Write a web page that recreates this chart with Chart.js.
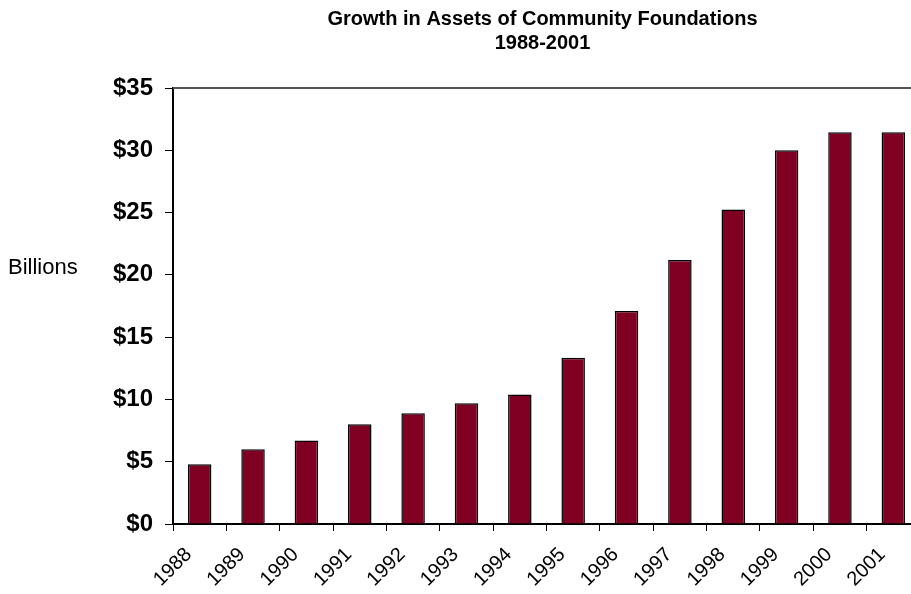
<!DOCTYPE html>
<html>
<head>
<meta charset="utf-8">
<script src="https://cdn.jsdelivr.net/npm/chart.js@4"></script>
<style>
  html, body { margin: 0; padding: 0; background: #fff; overflow: hidden; }
  #wrap { position: relative; width: 930px; height: 594px; }
</style>
</head>
<body>
<div id="wrap"><canvas id="assetsChart"></canvas></div>
<script>
const years = ['1988', '1989', '1990', '1991', '1992', '1993', '1994', '1995', '1996', '1997', '1998', '1999', '2000', '2001'];
const assets = [4.8, 6.0, 6.7, 8.0, 8.9, 9.7, 10.4, 13.35, 17.1, 21.2, 25.25, 30.0, 31.45, 31.45]; // billions of dollars
const yTicks = [0, 5, 10, 15, 20, 25, 30, 35];
const titleLines = ['Growth in Assets of Community Foundations', '1988-2001'];
const yLabel = 'Billions';

// title centred over the plot area + "Billions" label + top frame line
const extras = {
    id: 'extras',
    afterDraw(chart) {
        const c = chart.ctx;
        const a = chart.chartArea;
        c.save();
        c.fillStyle = '#000';
        c.textAlign = 'center';
        c.textBaseline = 'middle';
        c.font = 'bold 20px "Liberation Sans", Arial, sans-serif';
        const cx = (a.left + a.right) / 2 - 4;
        c.fillText(titleLines[0], cx, 19);
        c.fillText(titleLines[1], cx, 43);

        c.textAlign = 'left';
        c.font = '22px "Liberation Sans", Arial, sans-serif';
        c.fillText(yLabel, 8, 268);

        c.strokeStyle = '#555';
        c.lineWidth = 2;
        c.beginPath();
        c.moveTo(a.left, a.top);
        c.lineTo(a.right, a.top);
        c.stroke();
        c.restore();
    }
};

const ctx = document.getElementById('assetsChart').getContext('2d');
const assetsChart = new Chart(ctx, {
    type: 'bar',
    data: {
        labels: years,
        datasets: [{
            label: 'Assets',
            data: assets,
            backgroundColor: '#7f0022',
            borderColor: '#000',
            borderWidth: 1.5,
            categoryPercentage: 1,
            barPercentage: 0.44
        }]
    },
    options: {
        responsive: true,
        maintainAspectRatio: false,
        animation: false,
        layout: {
            padding: { top: 88, right: 10, bottom: 0, left: 0 }
        },
        plugins: {
            legend: { display: false },
            title: { display: false },
            tooltip: { enabled: false }
        },
        scales: {
            x: {
                grid: {
                    offset: true,
                    drawOnChartArea: false,
                    color: '#000',
                    tickLength: 7
                },
                border: { color: '#000', width: 2 },
                ticks: {
                    color: '#000',
                    minRotation: 45,
                    maxRotation: 45,
                    labelOffset: -11,
                    padding: 12,
                    font: { family: '"Liberation Sans", Arial, sans-serif', size: 20 }
                },
                afterFit(scale) { scale.height = 70; }
            },
            y: {
                min: 0,
                max: 35,
                afterBuildTicks(scale) { scale.ticks = yTicks.map(v => ({ value: v })); },
                grid: {
                    drawOnChartArea: false,
                    color: '#000',
                    tickLength: 8
                },
                border: { color: '#000', width: 2 },
                ticks: {
                    color: '#000',
                    padding: 12,
                    callback: v => '$' + v,
                    font: { family: '"Liberation Sans", Arial, sans-serif', size: 24, weight: 'bold' }
                },
                afterFit(scale) { scale.width = 173; }
            }
        }
    },
    plugins: [extras]
});
</script>
</body>
</html>
